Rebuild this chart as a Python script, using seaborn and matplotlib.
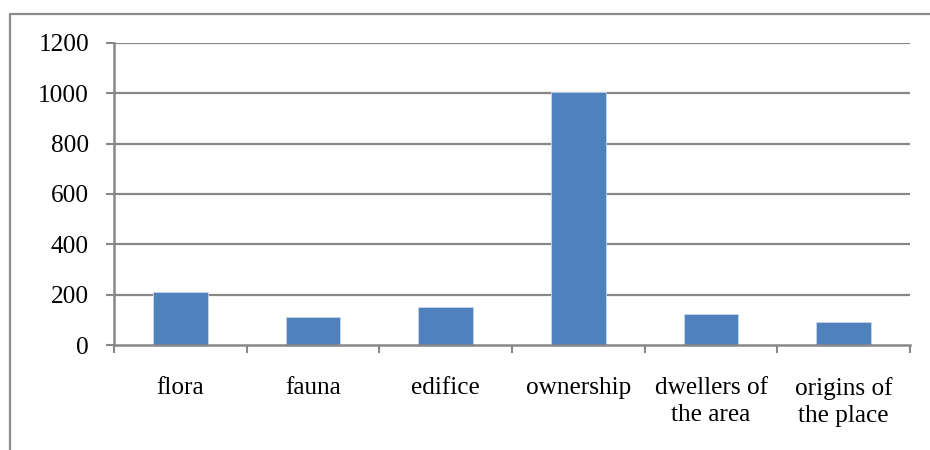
import matplotlib
matplotlib.use("Agg")
import matplotlib.pyplot as plt
import seaborn as sns
import pandas as pd
from matplotlib.lines import Line2D

categories = ["flora", "fauna", "edifice", "ownership",
              "dwellers of\nthe area", "origins of\nthe place"]
counts = [210, 110, 152, 1005, 125, 92]
y_ticks = [0, 200, 400, 600, 800, 1000, 1200]

sns.set_style("white")
plt.rcParams["font.family"] = ["Liberation Serif", "DejaVu Serif"]

GRID = "#878787"
BAR = "#4F81BD"
FS = 18.2

fig = plt.figure(figsize=(9.3, 4.5), dpi=100)
ax = fig.add_axes([114 / 930, 105 / 450, 796 / 930, 302 / 450])

df = pd.DataFrame({"category": categories, "count": counts})
sns.barplot(data=df, x="category", y="count", color=BAR, saturation=1,
            width=0.41, edgecolor="#C9D6EA", linewidth=0.6, ax=ax, zorder=3)

ax.set_ylim(0, 1200)
ax.set_xlim(-0.5, len(categories) - 0.5)
ax.set_yticks(y_ticks)
ax.set_yticklabels([str(v) for v in y_ticks])
ax.set_xlabel("")
ax.set_ylabel("")

# horizontal gridlines
for v in y_ticks[1:]:
    ax.axhline(v, color=GRID, lw=1.6, zorder=1)

for side in ("top", "right"):
    ax.spines[side].set_visible(False)
for side in ("left", "bottom"):
    ax.spines[side].set_color(GRID)
    ax.spines[side].set_linewidth(1.8)
    ax.spines[side].set_zorder(4)

ax.tick_params(axis="y", which="major", length=6, width=1.5, color=GRID,
               pad=12, labelsize=FS, labelcolor="black", left=True)
# category labels centred, tick marks at category boundaries
ax.set_xticks(range(len(categories)))
ax.set_xticklabels(categories, linespacing=1.32)
ax.tick_params(axis="x", which="major", length=0, pad=23,
               labelsize=FS, labelcolor="black")
ax.set_xticks([i - 0.5 for i in range(len(categories) + 1)], minor=True)
ax.tick_params(axis="x", which="minor", length=6, width=1.5, color=GRID,
               bottom=True, direction="out")
for lbl in ax.get_xticklabels():
    lbl.set_verticalalignment("top")

# chart frame (top and left edges)
fig.add_artist(Line2D([10 / 930, 10 / 930], [0, 1 - 14 / 450],
                      transform=fig.transFigure, color="#8C8C8C", lw=1.6))
fig.add_artist(Line2D([10 / 930, 1], [1 - 14 / 450, 1 - 14 / 450],
                      transform=fig.transFigure, color="#8C8C8C", lw=1.6))

fig.savefig("out.png", dpi=100)
